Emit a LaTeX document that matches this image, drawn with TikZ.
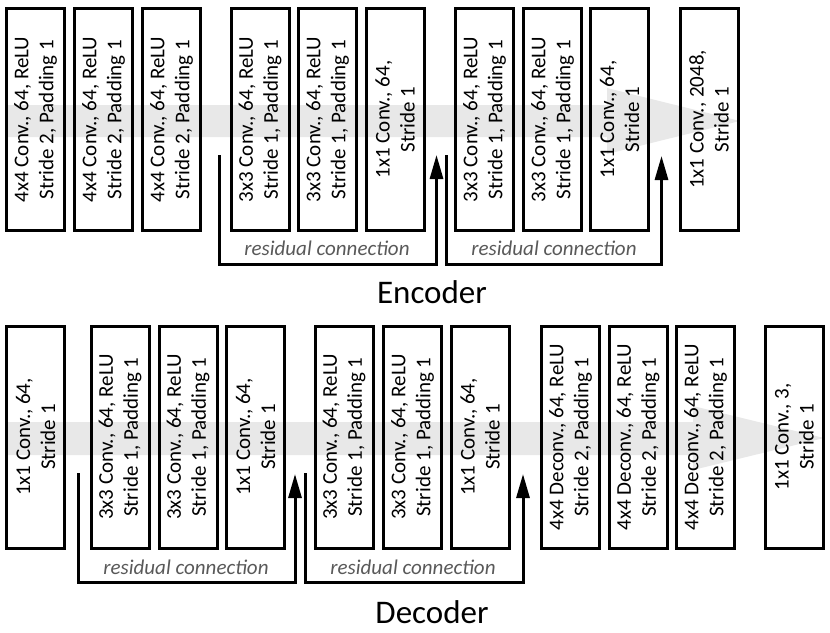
\documentclass[tikz,border=0pt]{standalone}
\usepackage{fontspec}
\setmainfont{Carlito}
\usetikzlibrary{arrows.meta}

\begin{document}
\begin{tikzpicture}[x=1pt, y=-1pt,
  layer/.style={rectangle, draw=black, line width=3pt, rotate=90, minimum width=222pt, minimum height=58pt, inner sep=0pt, align=center, font=\fontsize{21}{25}\selectfont},
  res/.style={line width=3pt, -{Triangle[width=13pt,length=24pt]}},
  note/.style={font=\fontsize{21}{25}\selectfont\itshape, text=black!65},
  title/.style={font=\fontsize{33}{40}\selectfont},
  band/.style={fill=black!9, draw=none}]

\useasboundingbox (0,0) rectangle (830,632);

% flow bands
\fill[band] (5,105) -- (607,105) -- (607,88) -- (740,121) -- (607,154) -- (607,137) -- (5,137) -- cycle;
\fill[band] (5,422) -- (693,422) -- (693,406) -- (824,438) -- (693,470) -- (693,455) -- (5,455) -- cycle;

% encoder
\node[layer] (e1) at (35.5, 119.5) {4x4 Conv., 64, ReLU\\Stride 2, Padding 1};
\node[layer] (e2) at (103.5, 119.5) {4x4 Conv., 64, ReLU\\Stride 2, Padding 1};
\node[layer] (e3) at (171.5, 119.5) {4x4 Conv., 64, ReLU\\Stride 2, Padding 1};
\node[layer] (e4) at (260, 119.5) {3x3 Conv., 64, ReLU\\Stride 1, Padding 1};
\node[layer] (e5) at (327.5, 119.5) {3x3 Conv., 64, ReLU\\Stride 1, Padding 1};
\node[layer] (e6) at (395, 119.5) {1x1 Conv., 64,\\Stride 1};
\node[layer] (e7) at (484.5, 119.5) {3x3 Conv., 64, ReLU\\Stride 1, Padding 1};
\node[layer] (e8) at (552.5, 119.5) {3x3 Conv., 64, ReLU\\Stride 1, Padding 1};
\node[layer] (e9) at (619.5, 119.5) {1x1 Conv., 64,\\Stride 1};
\node[layer] (e10) at (709, 119.5) {1x1 Conv., 2048,\\Stride 1};

\coordinate (rs1) at (219, 155);
\coordinate (re1) at (436.5, 155);
\coordinate (rs2) at (446, 155);
\coordinate (re2) at (661.5, 156);

\draw[res] (rs1) -- ++(0,109) -| (re1);
\draw[res] (rs2) -- ++(0,109) -| (re2);

\node[note] (n1) at (327, 248) {residual connection};
\node[note] (n2) at (554, 248) {residual connection};

\node[title] (enc) at (432, 292) {Encoder};

% decoder
\node[layer] (d1) at (35.5, 437) {1x1 Conv., 64,\\Stride 1};
\node[layer] (d2) at (120, 437) {3x3 Conv., 64, ReLU\\Stride 1, Padding 1};
\node[layer] (d3) at (188, 437) {3x3 Conv., 64, ReLU\\Stride 1, Padding 1};
\node[layer] (d4) at (255.5, 437) {1x1 Conv., 64,\\Stride 1};
\node[layer] (d5) at (344, 437) {3x3 Conv., 64, ReLU\\Stride 1, Padding 1};
\node[layer] (d6) at (412.5, 437) {3x3 Conv., 64, ReLU\\Stride 1, Padding 1};
\node[layer] (d7) at (480, 437) {1x1 Conv., 64,\\Stride 1};
\node[layer] (d8) at (570.5, 437) {4x4 Deconv., 64, ReLU\\Stride 2, Padding 1};
\node[layer] (d9) at (638, 437) {4x4 Deconv., 64, ReLU\\Stride 2, Padding 1};
\node[layer] (d10) at (705.5, 437) {4x4 Deconv., 64, ReLU\\Stride 2, Padding 1};
\node[layer] (d11) at (794.5, 437) {1x1 Conv., 3,\\Stride 1};

\coordinate (rs3) at (78, 473);
\coordinate (re3) at (295, 474);
\coordinate (rs4) at (305, 473);
\coordinate (re4) at (523, 474);

\draw[res] (rs3) -- ++(0,109) -| (re3);
\draw[res] (rs4) -- ++(0,109) -| (re4);

\node[note] (n3) at (186, 567) {residual connection};
\node[note] (n4) at (413, 567) {residual connection};

\node[title] (dec) at (432, 612) {Decoder};

\end{tikzpicture}
\end{document}
